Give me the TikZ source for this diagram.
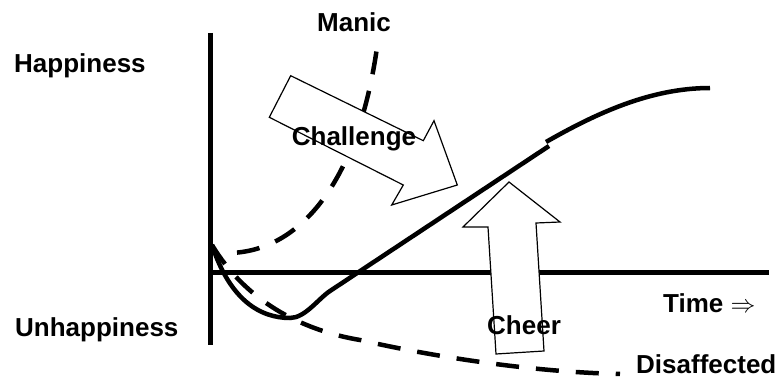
\documentclass[tikz,border=0pt]{standalone}
\usepackage{fontspec}
\setmainfont{Liberation Sans}
\begin{document}
\begin{tikzpicture}[x=1pt,y=-1pt,
  lbl/.style={font=\fontsize{26}{30}\selectfont\bfseries, inner sep=0pt, anchor=base west},
  axisline/.style={line width=5pt},
  solidcurve/.style={line width=4.5pt},
  dashcurve/.style={line width=4.5pt, dash pattern=on 23pt off 17pt},
  blockarrow/.style={draw, fill=white, line width=1.2pt, line join=miter}]
\useasboundingbox (0,0) rectangle (782,379);
% curves
\draw[dashcurve, dash phase=27pt] (224,253) .. controls (300,255) and (360,180) .. (378,40);
\draw[dashcurve] (212,245) .. controls (245,300) and (300,330) .. (360,340)
      .. controls (430,356) and (530,372) .. (620,374);
\draw[solidcurve] (212,245) .. controls (230,300) and (260,318) .. (290,318)
      .. controls (305,318) and (318,299) .. (330,291) -- (549,146);
\draw[solidcurve] (546,142) .. controls (595,114) and (650,88) .. (710,88);
% axes
\draw[axisline] (210,33) -- (210,345);
\draw[axisline] (210,272.5) -- (769,272.5);
% block arrows
\draw[blockarrow] (290.7,75.7) -- (423.3,140.7) -- (434,120.7) -- (457.3,185)
   -- (391.7,205) -- (403.3,185) -- (269.3,117.3) -- cycle;
\draw[blockarrow] (509,182) -- (560,222) -- (536,223) -- (544,351)
   -- (496,354) -- (488,227) -- (463,227) -- cycle;
% labels
\node[lbl] (happy) at (14,73) {Happiness};
\node[lbl] (unhappy) at (15,337) {Unhappiness};
\node[lbl] (manic) at (317,32) {Manic};
\node[lbl, anchor=center] (chal) at (354,139) {Challenge};
\node[lbl] (cheer) at (487,335) {Cheer};
\node[lbl] (time) at (663,313) {Time $\Rightarrow$};
\node[lbl] (dis) at (636,373.5) {Disaffected};
\end{tikzpicture}
\end{document}
